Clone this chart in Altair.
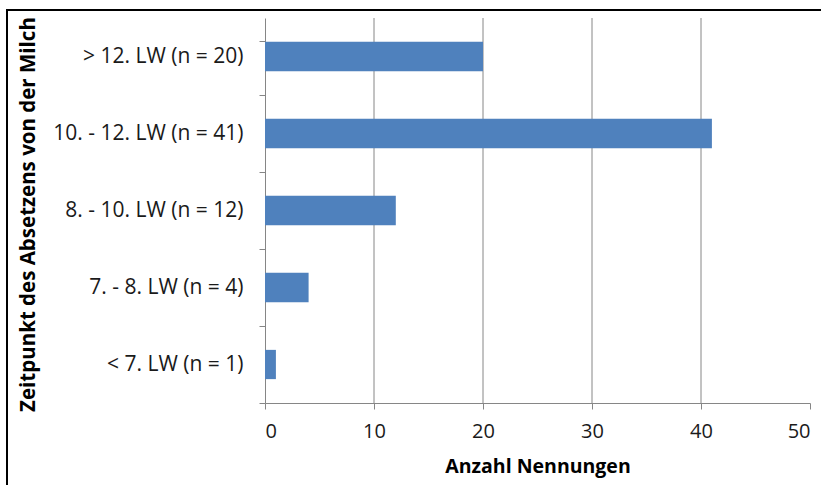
import altair as alt
import pandas as pd

# Weaning time categories (top to bottom) and number of mentions
categories = [
    "> 12. LW (n = 20)",
    "10. - 12. LW (n = 41)",
    "8. - 10. LW (n = 12)",
    "7. - 8. LW (n = 4)",
    "< 7. LW (n = 1)",
]
counts = [20, 41, 12, 4, 1]
x_ticks = [0, 10, 20, 30, 40, 50]
grid_values = [10, 20, 30, 40]

FONT = "Open Sans"
PLOT_W = 545
PLOT_H = 385
AXIS_GRAY = "#868686"

df = pd.DataFrame({"Kategorie": categories, "Anzahl": counts})
grid_df = pd.DataFrame({"Anzahl": grid_values})

x_scale = alt.Scale(domain=[0, 50], nice=False)
x_axis = alt.Axis(
    title="Anzahl Nennungen",
    values=x_ticks,
    grid=False,
    domainColor=AXIS_GRAY,
    tickColor=AXIS_GRAY,
    tickSize=6,
    labelFontSize=20,
    labelColor="#1a1a1a",
    labelPadding=12,
    labelFont=FONT,
    titleFont=FONT,
    titleFontSize=19.5,
    titleFontWeight="bold",
    titleColor="#000000",
    titlePadding=16,
)

bars = alt.Chart(df).mark_bar(color="#4F81BD").encode(
    x=alt.X("Anzahl:Q", scale=x_scale, axis=x_axis),
    y=alt.Y(
        "Kategorie:N",
        sort=categories,
        scale=alt.Scale(paddingInner=0.62, paddingOuter=0.31),
        axis=alt.Axis(
            title="Zeitpunkt des Absetzens von der Milch",
            bandPosition=1.816,
            tickExtra=True,
            grid=False,
            domainColor=AXIS_GRAY,
            tickColor=AXIS_GRAY,
            tickSize=6,
            labelFontSize=21,
            labelColor="#1a1a1a",
            labelPadding=16,
            labelLimit=400,
            labelFont=FONT,
            titleFont=FONT,
            titleFontSize=20.5,
            titleFontWeight="bold",
            titleColor="#000000",
            titleAngle=270,
            titleAlign="center",
            titleBaseline="middle",
            titleX=-237,
            titleY=196,
        ),
    ),
)

# Vertical gridlines behind the bars
grid = alt.Chart(grid_df).mark_rule(color=AXIS_GRAY, strokeWidth=1).encode(
    x=alt.X("Anzahl:Q", scale=x_scale, axis=x_axis)
)

# Outer frame around the chart area
frame = alt.Chart(pd.DataFrame({"a": [0]})).mark_rect(
    fill=None, stroke="#000000", strokeWidth=2, clip=False
).encode(
    x=alt.value(-258),
    x2=alt.value(PLOT_W + 40),
    y=alt.value(-8),
    y2=alt.value(PLOT_H + 120),
)

chart = alt.layer(grid, bars, frame).properties(
    width=PLOT_W,
    height=PLOT_H,
    autosize=alt.AutoSizeParams(type="none"),
    padding={"left": 265, "top": 18, "right": 11, "bottom": 82},
    background="#ffffff",
).configure_view(stroke=None)

chart.save("out.html", embed_options={"renderer": "svg", "actions": False})
